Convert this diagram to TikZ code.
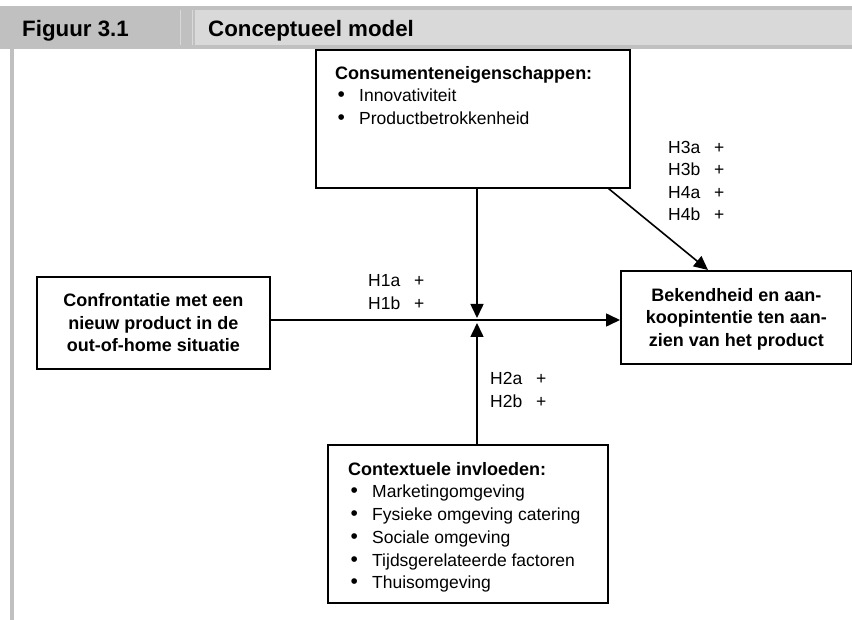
\documentclass[tikz,border=0pt]{standalone}
\usepackage{fontspec}
\setmainfont{Liberation Sans}
\usetikzlibrary{arrows.meta}

\definecolor{hdrdark}{HTML}{C0C0C0}
\definecolor{hdrlight}{HTML}{D9D9D9}

\newcommand{\bul}{\makebox[24pt][l]{\hspace{2.5pt}{\fontsize{21}{0}\selectfont\textbullet}}}
\newcommand{\hyp}[1]{\makebox[46pt][l]{#1}+}

\tikzset{
  box/.style={draw, line width=1.6pt, inner sep=0pt, anchor=north west},
  boxtext/.style={font=\fontsize{18}{22.5}\selectfont\bfseries, align=center},
  listtext/.style={font=\fontsize{17.5}{22.7}\selectfont, align=left, inner sep=0pt, anchor=north west},
  hyplabel/.style={font=\fontsize{17.5}{22.5}\selectfont, align=left, inner sep=0pt, anchor=west},
  hdrtext/.style={anchor=base west, inner sep=0pt, font=\fontsize{22.3}{24}\selectfont\bfseries},
  arr/.style={line width=1.6pt, -{Triangle[length=14pt,width=13pt]}}
}

\begin{document}
\begin{tikzpicture}[x=1pt, y=-1pt]

  % ------------------------------------------------------------
  % Frame and positions
  % ------------------------------------------------------------

  \useasboundingbox (0,0) rectangle (852,620);

  \def\xmid{477}
  \def\ymid{320}

  % ------------------------------------------------------------
  % Header bar
  % ------------------------------------------------------------

  \fill[hdrdark]  (0,6) rectangle (852,49);
  \fill[hdrlight] (195,10) rectangle (852,45);
  \draw[hdrlight, line width=0.6pt] (180,10) -- (180,45);
  \draw[hdrlight, line width=0.6pt] (192,10) -- (192,45);
  \fill[hdrdark]  (10,49) rectangle (14,620);

  \node[hdrtext] (fig) at (22,36.5) {Figuur 3.1};
  \node[hdrtext] (title) at (208,36.5) {Conceptueel model};

  % ------------------------------------------------------------
  % Boxes
  % ------------------------------------------------------------

  \node[box, minimum width=314pt, minimum height=138pt] (cons) at (315,49) {};
  \node[listtext] (constxt) at (335,66)
    {{\fontsize{18}{22.5}\selectfont\bfseries Consumenteneigenschappen:}\\
     \bul Innovativiteit\\
     \bul Productbetrokkenheid};

  \node[box, minimum width=233pt, minimum height=92pt] (conf) at (36,276) {};
  \node[boxtext] (conftxt) at (conf.center)
    {Confrontatie met een\\nieuw product in de\\out-of-home situatie};

  \node[box, minimum width=231pt, minimum height=93pt] (bek) at (620,270) {};
  \node[boxtext] (bektxt) at ([yshift=-2pt]bek.center)
    {Bekendheid en aan-\\koopintentie ten aan-\\zien van het product};

  \node[box, minimum width=280pt, minimum height=158pt] (ctx) at (327,444) {};
  \begin{scope}
    \clip (327,444) rectangle (607,592);
    \node[listtext] (ctxtxt) at (348,462)
      {{\fontsize{18}{22.7}\selectfont\bfseries Contextuele invloeden:}\\
       \bul Marketingomgeving\\
       \bul Fysieke omgeving catering\\
       \bul Sociale omgeving\\
       \bul Tijdsgerelateerde factoren\\
       \bul Thuisomgeving};
  \end{scope}

  % ------------------------------------------------------------
  % Connectors
  % ------------------------------------------------------------

  \coordinate (mid) at (\xmid,\ymid);

  \draw[arr] (conf.east |- mid) -- (bek.west |- mid);
  \draw[arr, shorten >=2pt] (cons.south -| mid) -- (mid);
  \draw[arr, shorten >=3pt] (ctx.north -| mid) -- (mid);
  \draw[arr] ([xshift=-22pt]cons.south east) -- ([xshift=88pt]bek.north west);

  % ------------------------------------------------------------
  % Hypotheses
  % ------------------------------------------------------------

  \node[hyplabel] (h1) at (368,292) {\hyp{H1a}\\\hyp{H1b}};
  \node[hyplabel] (h2) at (490,390) {\hyp{H2a}\\\hyp{H2b}};
  \node[hyplabel] (h34) at (668,181) {\hyp{H3a}\\\hyp{H3b}\\\hyp{H4a}\\\hyp{H4b}};

\end{tikzpicture}
\end{document}
